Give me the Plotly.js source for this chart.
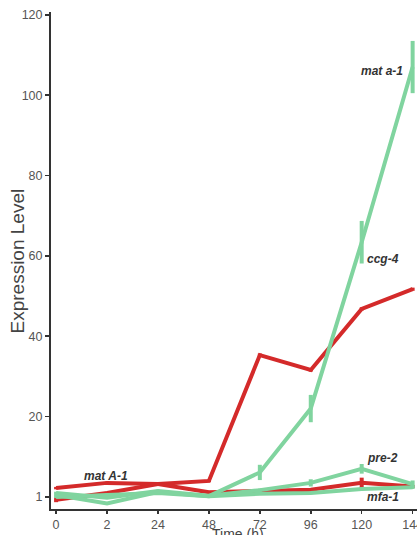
<!DOCTYPE html>
<html>
<head>
<meta charset="utf-8">
<script src="https://cdn.plot.ly/plotly-3.0.1.min.js"></script>
<style>
  html, body { margin: 0; padding: 0; overflow: hidden; background: #fff; width: 417px; height: 535px; }
  #chart { width: 445px; height: 535px; }
</style>
</head>
<body>
<div id="chart"></div>
<script>
// Categories (time points, hours)
const timePoints = ["0", "2", "24", "48", "72", "96", "120", "144"];

// Y tick values and labels (baseline tick labelled "1")
const yTickVals = [0, 20, 40, 60, 80, 100, 120];
const yTickText = ["1", "20", "40", "60", "80", "100", "120"];

// Series values
const ccg4      = [-0.7, 1.0, 3.2, 4.0, 35.3, 31.6, 46.8, 51.7];
const ccg4Err   = [0.6, 0.3, 0.3, 0.3, 0.4, 0.4, 0.4, 0.4];
const matA1     = [2.2, 3.5, 3.2, 1.2, 1.5, 1.8, 3.5, 2.6];
const matA1Err  = [0.3, 0.3, 0.3, 0.3, 0.3, 0.3, 1.3, 0.4];
const mata1     = [0.5, -1.6, 1.2, 0.2, 6.1, 22.0, 63.4, 107.0];
const mata1Err  = [0.3, 0.3, 0.4, 0.3, 1.9, 3.4, 5.3, 6.5];
const pre2      = [1.0, -0.2, 1.5, 0.3, 1.7, 3.5, 7.0, 3.2];
const pre2Err   = [0.3, 0.3, 0.3, 0.3, 0.4, 0.9, 1.2, 0.9];
const mfa1      = [0.0, 0.6, 1.0, 0.2, 0.8, 1.0, 2.0, 2.4];
const mfa1Err   = [0.3, 0.3, 0.3, 0.3, 0.3, 0.3, 0.4, 0.4];

// Label annotations: [text, x position (category index), y value]
const labelText = ["mat a-1", "ccg-4", "pre-2", "mfa-1", "mat A-1"];
const labelX    = [6.39, 6.42, 6.41, 6.41, 0.98];
const labelY    = [106, 59.2, 9.7, 0.0, 5.3];

const RED = "#d42a2a";
const GREEN = "#80d49f";

function trace(y, err, color) {
  return {
    x: timePoints, y: y, type: "scatter", mode: "lines",
    line: { color: color, width: 4 },
    error_y: { type: "data", array: err, visible: true, color: color, thickness: 4, width: 0 },
    hoverinfo: "none", showlegend: false
  };
}

const data = [
  trace(ccg4, ccg4Err, RED),
  trace(matA1, matA1Err, RED),
  trace(mfa1, mfa1Err, GREEN),
  trace(pre2, pre2Err, GREEN),
  trace(mata1, mata1Err, GREEN)
];

const FONT = "'Liberation Sans', Arial, sans-serif";

const annotations = labelText.map((t, i) => ({
  text: "<b><i>" + t + "</i></b>", x: labelX[i], y: labelY[i],
  xref: "x", yref: "y", showarrow: false,
  font: { family: FONT, size: 12, color: "#333" },
  xanchor: "center", yanchor: "middle"
}));

annotations.push({
  text: "Expression Level", xref: "paper", yref: "paper",
  x: -0.0864, y: 0.5, textangle: -90, showarrow: false,
  font: { family: FONT, size: 19, color: "#444" },
  xanchor: "center", yanchor: "middle"
});
annotations.push({
  text: "Time (h)", xref: "paper", yref: "paper",
  x: 0.49, y: -0.05, showarrow: false,
  font: { family: FONT, size: 14, color: "#444" },
  xanchor: "center", yanchor: "middle"
});

const layout = {
  width: 445, height: 535,
  margin: { l: 51, r: 12, t: 12, b: 26 },
  paper_bgcolor: "#fff", plot_bgcolor: "#fff",
  showlegend: false,
  xaxis: {
    type: "category", range: [-0.1, 7.4],
    showgrid: false, zeroline: false,
    showline: true, linecolor: "#333", linewidth: 2,
    ticks: "outside", ticklen: 3, tickwidth: 1.5, tickcolor: "#333",
    tickfont: { family: FONT, size: 12.5, color: "#555" }
  },
  yaxis: {
    range: [-3, 120.7],
    tickvals: yTickVals, ticktext: yTickText,
    showgrid: false, zeroline: false,
    showline: true, linecolor: "#333", linewidth: 2,
    ticks: "outside", ticklen: 4, tickwidth: 1.5, tickcolor: "#333",
    tickfont: { family: FONT, size: 12.5, color: "#555" }
  },
  annotations: annotations
};

Plotly.newPlot("chart", data, layout, { displayModeBar: false, staticPlot: true });
</script>
</body>
</html>
